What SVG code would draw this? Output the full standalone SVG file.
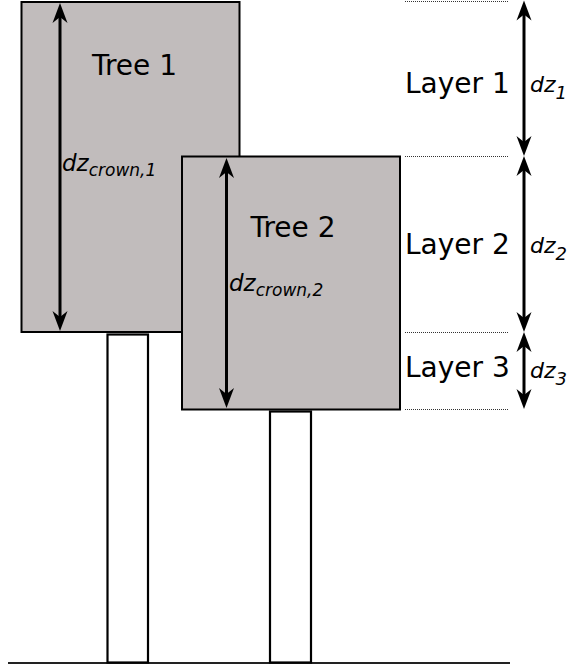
<svg xmlns="http://www.w3.org/2000/svg" width="570" height="671" viewBox="0 0 570 671">
<style>
.crown{fill:#c1bcbc;stroke:#000;stroke-width:2}
.trunk{fill:#fff;stroke:#000;stroke-width:2.2}
.lbl{font-family:"DejaVu Sans",sans-serif;font-size:28px;fill:#000}
.dz{font-family:"DejaVu Sans",sans-serif;font-style:italic;fill:#000}
.dim{stroke:#000;stroke-width:3;fill:none;marker-start:url(#ah);marker-end:url(#ah)}
.dot{stroke:#333;stroke-width:1;stroke-dasharray:1,1;fill:none}
</style>
<defs>
<marker id="ah" markerUnits="userSpaceOnUse" viewBox="-34 -9 35 18" refX="-13" refY="0" markerWidth="35" markerHeight="18" orient="auto-start-reverse">
<path d="M0,0 L-20,-7.5 L-14,0 L-20,7.5 Z" fill="#000"/>
</marker>
</defs>
<line x1="8" y1="663" x2="510" y2="663" stroke="#222" stroke-width="2"/>
<g id="tree1">
<rect class="trunk" x="107.5" y="334.5" width="40.5" height="328"/>
<rect class="crown" x="21.5" y="2" width="218" height="330"/>
<text class="lbl" x="134.5" y="75" text-anchor="middle">Tree 1</text>
<text class="dz" x="62" y="171" font-size="23">dz<tspan font-size="17" dy="5">crown,1</tspan></text>
</g>
<g id="tree2">
<rect class="trunk" x="270" y="411.5" width="41" height="251"/>
<rect class="crown" x="182" y="156.5" width="218" height="253"/>
<text class="lbl" x="293" y="237" text-anchor="middle">Tree 2</text>
<text class="dz" x="229" y="291" font-size="23">dz<tspan font-size="17" dy="5">crown,2</tspan></text>
</g>
<g id="layer1">
<text class="lbl" x="405" y="93">Layer 1</text>
<text class="dz" x="530" y="92" font-size="22">dz<tspan font-size="18" dy="7">1</tspan></text>
</g>
<g id="layer2">
<text class="lbl" x="405" y="254">Layer 2</text>
<text class="dz" x="530" y="253" font-size="22">dz<tspan font-size="18" dy="7">2</tspan></text>
</g>
<g id="layer3">
<text class="lbl" x="405" y="377">Layer 3</text>
<text class="dz" x="530" y="378" font-size="22">dz<tspan font-size="18" dy="7">3</tspan></text>
</g>
<g id="connectors">
<path class="dim" d="M60,16 V318"/>
<path class="dim" d="M226.5,171 V395"/>
<path class="dim" d="M524,13.5 V143"/>
<path class="dim" d="M524,169 V319"/>
<path class="dim" d="M524,345 V396"/>
<path class="dot" d="M405,1.5 H508 M405,156.5 H508 M405,332.5 H508 M405,409.5 H508"/>
</g>
</svg>
